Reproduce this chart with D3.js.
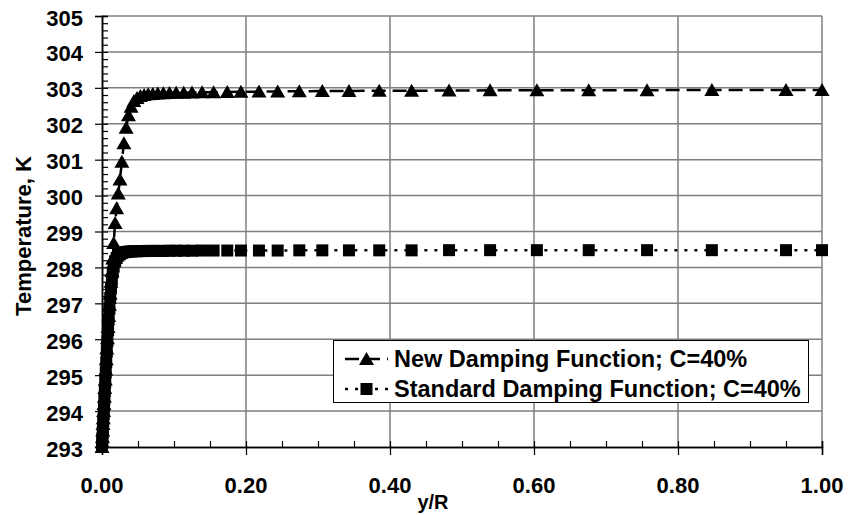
<!DOCTYPE html>
<html>
<head>
<meta charset="utf-8">
<script src="https://cdn.jsdelivr.net/npm/d3@7"></script>
<style>
  body { margin: 0; background: #fff; }
  svg text { font-family: "Liberation Sans", Arial, sans-serif; font-weight: bold; }
</style>
</head>
<body>
<svg id="chart" width="851" height="515"></svg>
<script>
// shared grid of y/R positions (clustered near the wall)
const yR = [0, 0.0003, 0.0006, 0.001, 0.0014, 0.0018, 0.0023, 0.0028, 0.0033, 0.0039,
  0.0045, 0.0052, 0.0059, 0.0067, 0.0075, 0.0084, 0.0093, 0.0103, 0.0114, 0.0125,
  0.0137, 0.0149, 0.0162, 0.0182, 0.0203, 0.0226, 0.025, 0.0276, 0.0304, 0.0335,
  0.0368, 0.0404, 0.0443, 0.0486, 0.0533, 0.0585, 0.0642, 0.0705, 0.0775, 0.0852,
  0.0937, 0.103, 0.1135, 0.125, 0.139, 0.155, 0.174, 0.193, 0.218, 0.244,
  0.274, 0.306, 0.343, 0.385, 0.430, 0.482, 0.539, 0.604, 0.676, 0.757,
  0.847, 0.950, 1.000];

const newDamping = [293.0, 293.14, 293.28, 293.46, 293.64, 293.8, 294.0, 294.2, 294.4, 294.64,
  294.88, 295.16, 295.44, 295.74, 296.03, 296.34, 296.65, 296.96, 297.27, 297.6,
  297.9, 298.25, 298.68, 299.24, 299.65, 300.06, 300.45, 300.94, 301.46, 301.89,
  302.24, 302.47, 302.63, 302.72, 302.77, 302.80, 302.82, 302.83, 302.84, 302.85,
  302.855, 302.86, 302.865, 302.87, 302.875, 302.88, 302.885, 302.89, 302.895, 302.90,
  302.905, 302.91, 302.915, 302.92, 302.92, 302.925, 302.93, 302.93, 302.935, 302.935,
  302.94, 302.94, 302.94];

const standardDamping = [293.0, 293.12, 293.24, 293.4, 293.56, 293.72, 293.92, 294.12, 294.32, 294.56,
  294.8, 295.08, 295.36, 295.66, 295.95, 296.25, 296.55, 296.85, 297.15, 297.42,
  297.66, 297.86, 298.02, 298.17, 298.26, 298.33, 298.37, 298.40, 298.42, 298.43,
  298.44, 298.445, 298.45, 298.45, 298.455, 298.455, 298.46, 298.46, 298.46, 298.46,
  298.465, 298.465, 298.465, 298.465, 298.47, 298.47, 298.47, 298.47, 298.47, 298.47,
  298.475, 298.475, 298.475, 298.475, 298.475, 298.48, 298.48, 298.48, 298.48, 298.48,
  298.48, 298.48, 298.48];

const seriesNames = ["New Damping Function; C=40%", "Standard Damping Function; C=40%"];
const xTicks = [0, 0.2, 0.4, 0.6, 0.8, 1.0];
const yTicks = [293, 294, 295, 296, 297, 298, 299, 300, 301, 302, 303, 304, 305];

const svg = d3.select("#chart");
const x = d3.scaleLinear().domain([0, 1]).range([102, 822]);
const y = d3.scaleLinear().domain([293, 305]).range([447, 16]);

// gridlines
svg.append("g").selectAll("line").data(yTicks.slice(1)).join("line")
  .attr("x1", x(0)).attr("x2", x(1))
  .attr("y1", d => y(d)).attr("y2", d => y(d))
  .attr("stroke", "#7f7f7f").attr("stroke-width", 1.5);
svg.append("g").selectAll("line").data(xTicks.slice(1)).join("line")
  .attr("x1", d => x(d)).attr("x2", d => x(d))
  .attr("y1", y(293)).attr("y2", y(305))
  .attr("stroke", "#7f7f7f").attr("stroke-width", 1.5);

// axes: outward major ticks, inward minor ticks
const fmtX = d3.format(".2f");
svg.append("g").attr("transform", `translate(0,${y(293)})`)
  .call(d3.axisBottom(x).tickValues(xTicks).tickSize(8).tickFormat(""));
svg.append("g").attr("transform", `translate(0,${y(293)})`)
  .call(d3.axisTop(x).tickValues(d3.range(0, 1.001, 0.05)).tickSize(6).tickFormat(""));
svg.append("g").attr("transform", `translate(${x(0)},0)`)
  .call(d3.axisLeft(y).tickValues(yTicks).tickSize(7).tickFormat(""));
svg.append("g").attr("transform", `translate(${x(0)},0)`)
  .call(d3.axisRight(y).tickValues(d3.range(293, 305.01, 0.2)).tickSize(6).tickFormat(""));
svg.selectAll(".domain").attr("stroke", "#000").attr("stroke-width", 1.5);
svg.selectAll(".tick line").attr("stroke", "#000").attr("stroke-width", 1.2);

// tick labels
svg.append("g").selectAll("text").data(xTicks).join("text")
  .attr("x", d => x(d)).attr("y", 492.5)
  .attr("text-anchor", "middle").attr("font-size", 22)
  .text(d => fmtX(d));
svg.append("g").selectAll("text").data(yTicks).join("text")
  .attr("x", 83).attr("y", d => y(d) + 9.5)
  .attr("text-anchor", "end").attr("font-size", 22)
  .text(d => d);

// axis titles
svg.append("text").attr("x", 433).attr("y", 509)
  .attr("text-anchor", "middle").attr("font-size", 20).text("y/R");
svg.append("text").attr("transform", `translate(31,236) rotate(-90)`)
  .attr("text-anchor", "middle").attr("font-size", 22).text("Temperature, K");

// series
const line = d3.line().x(d => x(d[0])).y(d => y(d[1]));
const triPath = "M0,-7L7.5,6L-7.5,6Z";
const sqPath = "M-6,-6H6V6H-6Z";

const dNew = yR.map((v, i) => [v, newDamping[i]]);
const dStd = yR.map((v, i) => [v, standardDamping[i]]);

svg.append("path").datum(dNew).attr("d", line)
  .attr("fill", "none").attr("stroke", "#000").attr("stroke-width", 2.5)
  .attr("stroke-dasharray", "14,7");
svg.append("g").selectAll("path").data(dNew).join("path")
  .attr("transform", d => `translate(${x(d[0])},${y(d[1])})`)
  .attr("d", triPath).attr("fill", "#000");

svg.append("path").datum(dStd).attr("d", line)
  .attr("fill", "none").attr("stroke", "#000").attr("stroke-width", 2.5)
  .attr("stroke-dasharray", "3,7");
svg.append("g").selectAll("path").data(dStd).join("path")
  .attr("transform", d => `translate(${x(d[0])},${y(d[1])})`)
  .attr("d", sqPath).attr("fill", "#000");

// legend
const lg = svg.append("g");
lg.append("rect").attr("x", 333.5).attr("y", 340.5).attr("width", 475).attr("height", 62)
  .attr("fill", "#fff").attr("stroke", "#000").attr("stroke-width", 1);
const items = [
  { name: seriesNames[0], dash: "14,7", marker: triPath },
  { name: seriesNames[1], dash: "3,7", marker: sqPath }
];
items.forEach((it, i) => {
  const cy = 359 + i * 30;
  lg.append("line").attr("x1", 345).attr("x2", 388).attr("y1", cy).attr("y2", cy)
    .attr("stroke", "#000").attr("stroke-width", 2.5).attr("stroke-dasharray", it.dash);
  lg.append("path").attr("transform", `translate(366.5,${cy})`).attr("d", it.marker).attr("fill", "#000");
  lg.append("text").attr("x", 394).attr("y", cy + 8).attr("font-size", 23.5).text(it.name);
});
</script>
</body>
</html>
